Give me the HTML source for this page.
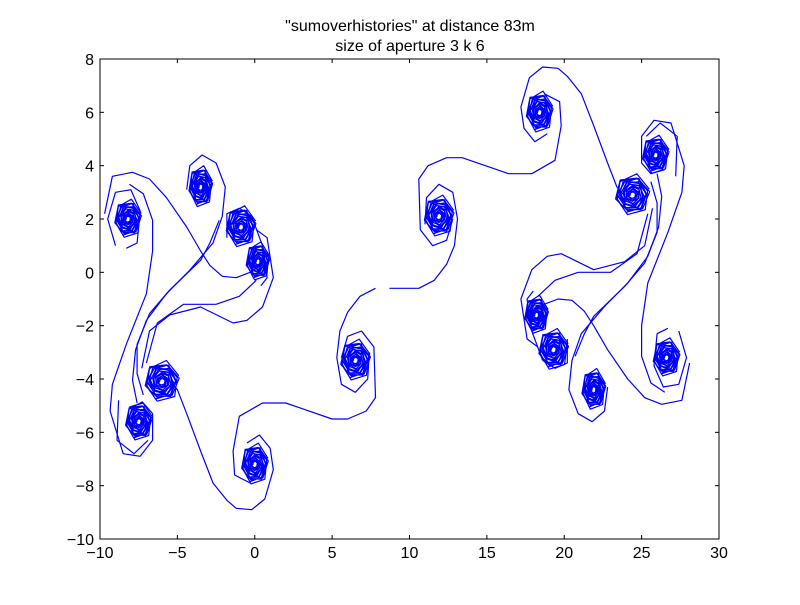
<!DOCTYPE html>
<html><head><meta charset="utf-8"><style>
body{margin:0;background:#fff;}
svg text{font-family:"Liberation Sans",sans-serif;}
</style></head><body>
<svg id="chart" width="800" height="600" xmlns="http://www.w3.org/2000/svg">
<rect x="0" y="0" width="800" height="600" fill="#fff"/>
<text x="410" y="31" font-size="16" text-anchor="middle">"sumoverhistories" at distance 83m</text>
<text x="410" y="51" font-size="16" text-anchor="middle">size of aperture 3 k 6</text>
<g id="plot"></g>
<rect x="100" y="59" width="619" height="480" fill="none" stroke="#000" stroke-width="1"/>
<g id="ticks"></g>
</svg>
<script>
const xTicks=[-10,-5,0,5,10,15,20,25,30];
const yTicks=[-10,-8,-6,-4,-2,0,2,4,6,8];
// spiral centers and radii (left half; right half is point-reflected)
const spiralCx=[-8.2,-3.5,-0.9,0.2,-6.0,-7.5,0.0,6.5];
const spiralCy=[2.0,3.2,1.7,0.4,-4.1,-5.6,-7.2,-3.3];
const spiralRx=[0.9,0.8,1.0,0.8,1.15,0.9,0.9,1.0];
const spiralRy=[0.7,0.75,0.75,0.7,0.75,0.7,0.75,0.75];
const pivot=[9.2,-0.6];
const paths=[
 [[-9.7,2.2],[-9.2,3.6],[-7.9,3.75],[-6.8,3.5],[-5.7,2.8],[-4.4,1.7],[-3.5,0.8],[-2.9,0.26],[-2.1,-0.15],[-1.2,-0.2],[-0.3,0],[0.5,0.3]],
 [[-8.1,3.3],[-7.2,2.95],[-6.6,1.95],[-6.6,0.8],[-7,-0.8],[-8.3,-2.7],[-9.2,-4.2],[-9.35,-5.2],[-8.5,-6.8],[-7.4,-6.9],[-6.6,-6.3],[-6.6,-5.3],[-7.2,-4.9],[-8.1,-5.05]],
 [[-4.4,3.1],[-4.2,4.0],[-3.4,4.4],[-2.5,4.1],[-1.9,3.2],[-2.1,2.1],[-2.7,1.1],[-4.2,0.08],[-5.7,-0.8],[-7,-1.8],[-7.7,-2.9],[-7.9,-4.05],[-7.6,-4.9]],
 [[-2.3,1.95],[-2.9,1.1],[-3.5,0.45],[-5.5,-0.67],[-6.8,-1.55],[-7.6,-2.7],[-7.6,-3.8],[-7.2,-4.6]],
 [[-7.3,-3.6],[-6.8,-2.2],[-5.5,-1.6],[-3.5,-1.3],[-1.4,-1.9],[-0.5,-1.8],[0.5,-1.3],[1.2,-0.2],[0.8,1.3],[0.1,1.6]],
 [[-7.0,-3.4],[-6.3,-1.9],[-4.6,-1.2],[-2.5,-1.2],[-1,-0.9],[0.1,-0.3]],
 [[-5.6,-4.0],[-5,-4.4],[-4.4,-5.3],[-3.5,-6.7],[-2.7,-7.9],[-1.8,-8.55],[-1.2,-8.85],[-0.2,-8.9],[0.65,-8.5],[1.2,-7.4],[1,-6.6],[0.3,-6.1],[-0.5,-6.4]],
 [[-0.3,-7.9],[-1.3,-7.6],[-1.4,-6.7],[-1,-5.4],[0.5,-4.9],[2,-4.9],[3,-5.1],[5,-5.5],[6,-5.5],[7.2,-5.2],[7.8,-4.7],[7.7,-2.8],[6.9,-2.2],[6.0,-2.4],[5.6,-3.2]],
 [[7.8,-0.6],[6.8,-0.9],[6.0,-1.5],[5.5,-2.2],[5.3,-3.2],[5.6,-4.2],[6.5,-4.5],[7.3,-4.0],[7.4,-3.0]],
 [[-8.8,-4.8],[-8.9,-6.3],[-7.8,-6.8],[-6.9,-6.3]],
 [[-9.0,1.0],[-9.5,2.0],[-9.0,3.0],[-8.0,3.1],[-7.4,2.3],[-7.6,1.1],[-8.3,0.9]],
 [[-1.8,1.3],[-1.8,2.2],[-1.0,2.4],[-0.2,2.1],[0.5,1.0],[0.8,-0.2],[0.4,-0.5]]
];
const gapRight=[[8.7,-0.6],[9.6,-0.6],[10.6,-0.6]];
const X0=100,X1=719,Y0=539,Y1=59;
const sx=v=>X0+(v+10)/40*(X1-X0);
const sy=v=>Y0-(v+10)/18*(Y0-Y1);
const NS="http://www.w3.org/2000/svg";
const plot=document.getElementById('plot');
function poly(pts,name){
  const p=document.createElementNS(NS,'polyline');
  p.setAttribute('points',pts.map(q=>sx(q[0]).toFixed(1)+','+sy(q[1]).toFixed(1)).join(' '));
  p.setAttribute('fill','none');p.setAttribute('stroke','#0000ff');p.setAttribute('stroke-width','1.2');
  p.setAttribute('stroke-linejoin','round');
  
  
  plot.appendChild(p);
}
const refl=q=>[2*pivot[0]-q[0],2*pivot[1]-q[1]];
paths.forEach((pa,i)=>{
  poly(pa,'curve-left-'+i);
  let r=pa.map(refl);
  if(i===8){r=gapRight.concat(r);}
  poly(r,'curve-right-'+i);
});
function spiral(cx,cy,rx,ry,name){
  const pts=[];const N=100;
  for(let k=0;k<=N;k++){
    const a=k*Math.PI*0.33+0.3;const f=1-k/N*0.85;
    const w=1+0.1*Math.sin(k*1.7);
    pts.push([cx+rx*f*w*Math.cos(a),cy+ry*f*w*Math.sin(a)]);
  }
  poly(pts,name);
}
for(let i=0;i<spiralCx.length;i++){
  spiral(spiralCx[i],spiralCy[i],spiralRx[i],spiralRy[i],'spiral-left-'+i);
  const r=refl([spiralCx[i],spiralCy[i]]);
  spiral(r[0],r[1],spiralRx[i],spiralRy[i],'spiral-right-'+i);
}
const tg=document.getElementById('ticks');
function line(x1,y1,x2,y2){const l=document.createElementNS(NS,'line');
 l.setAttribute('x1',x1);l.setAttribute('y1',y1);l.setAttribute('x2',x2);l.setAttribute('y2',y2);
 l.setAttribute('stroke','#000');tg.appendChild(l);return l;}
function txt(x,y,s,anchor,name){const t=document.createElementNS(NS,'text');
 t.setAttribute('x',x);t.setAttribute('y',y);t.setAttribute('font-size','16');t.setAttribute('text-anchor',anchor);
 t.textContent=s;
 
 
 tg.appendChild(t);}
xTicks.forEach(v=>{const x=sx(v);line(x,Y0,x,Y0-4);line(x,Y1,x,Y1+4);
 txt(x,Y0+19,v<0?'\u2212'+(-v):String(v),'middle','x-tick-label');});
yTicks.forEach(v=>{const y=sy(v);line(X0,y,X0+4,y);line(X1,y,X1-4,y);
 txt(X0-6,y+6,v<0?'\u2212'+(-v):String(v),'end','y-tick-label');});
</script>
</body></html>
